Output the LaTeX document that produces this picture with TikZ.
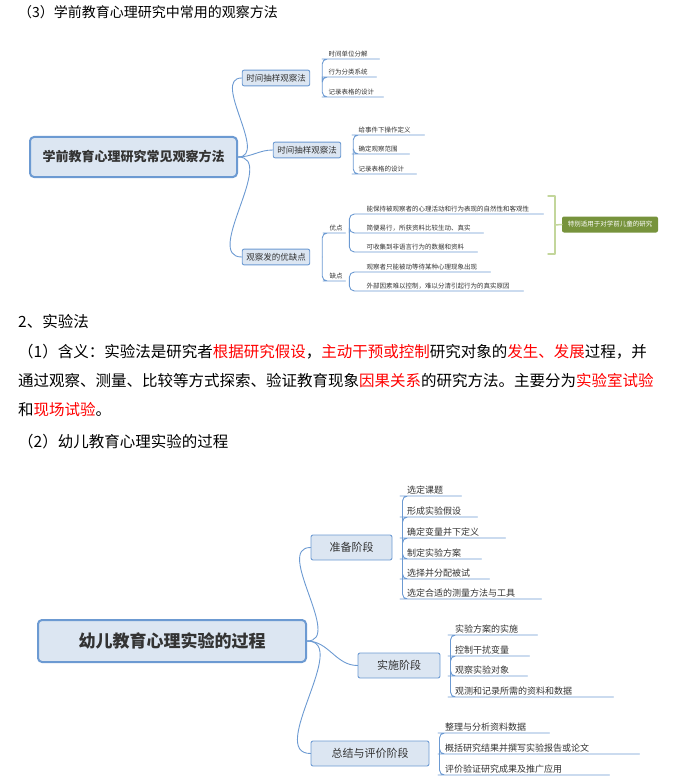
\documentclass[tikz,border=0pt]{standalone}
\usepackage{fontspec}
\setmainfont{Noto Sans CJK SC}
\usetikzlibrary{positioning}
\definecolor{mapblue}{HTML}{6C9AD2}
\definecolor{boxfill}{HTML}{DCE6F2}
\definecolor{txtgray}{HTML}{333333}
\definecolor{calloutgreen}{HTML}{77933C}
\definecolor{bracketgreen}{HTML}{C3D69B}
\tikzset{
  rootbox/.style={draw=mapblue,line width=2pt,fill=boxfill,rounded corners=4pt,text=txtgray,font=\bfseries},
  branchbox/.style={draw=mapblue,line width=0.9pt,fill=boxfill,rounded corners=2pt,text=txtgray,inner sep=4pt},
  leaf/.style={anchor=south west,inner sep=1.5pt,text=txtgray,align=left,text width=#1,font=\fontsize{6.5}{7.5}\selectfont},
  leaf/.default=20,
  bigleaf/.style={anchor=south west,inner sep=2pt,text=txtgray,align=left,text width=#1,font=\fontsize{9}{10}\selectfont},
  link/.style={draw=mapblue,line width=0.9pt},
  trunk/.style={draw=mapblue,line width=0.9pt,rounded corners=5pt},
  para/.style={anchor=west,inner sep=0pt,font=\fontsize{15.5}{17}\selectfont},
}
\newcommand{\hot}[1]{\textcolor{red}{#1}}
\begin{document}
\begin{tikzpicture}[x=1pt,y=-1pt,line cap=round,line join=round]
\useasboundingbox (0,0) rectangle (679,778);
% upper map
\node[para,font=\fontsize{14}{16}\selectfont] (title1) at (18,12) {（3）学前教育心理研究中常用的观察方法};
\node[rootbox,minimum width=207,minimum height=40,font=\bfseries\fontsize{13}{15}\selectfont] (root1) at (133.5,157) {学前教育心理研究常见观察方法};
\node[branchbox,font=\fontsize{8.5}{10}\selectfont] (tsa) at (276,78) {时间抽样观察法};
\node[branchbox,font=\fontsize{8.5}{10}\selectfont] (tsb) at (307,150) {时间抽样观察法};
\node[branchbox,font=\fontsize{8.5}{10}\selectfont] (pro) at (276,257) {观察发的优缺点};
\draw[link] (root1.east) to[out=0,in=180] (tsa.west);
\draw[link] (root1.east) to[out=0,in=180] (tsb.west);
\draw[link] (root1.east) to[out=0,in=180] (pro.west);
% leaves of the first branch
\node[leaf=49] (a1) at (327,59) {时间单位分解};
\node[leaf=46] (a2) at (327,77) {行为分类系统};
\node[leaf=53] (a3) at (327,97) {记录表格的设计};
\foreach \l in {a1,a2,a3}{
  \draw[trunk] ([xshift=12]tsa.east) |- (\l.south west) -- (\l.south east);
}
% leaves of the second branch
\node[leaf=64] (b1) at (357,135) {给事件下操作定义};
\node[leaf=49] (b2) at (357,154) {确定观察范围};
\node[leaf=56] (b3) at (357,174) {记录表格的设计};
\foreach \l in {b1,b2,b3}{
  \draw[trunk] ([xshift=12]tsb.east) |- (\l.south west) -- (\l.south east);
}
% pros and cons
\node[leaf=14] (good) at (328,233) {优点};
\node[leaf=14] (bad) at (328,281) {缺点};
\draw[trunk] ([xshift=12]pro.east) |- (good.south west) -- (good.south east);
\draw[trunk] ([xshift=12]pro.east) |- (bad.south west) -- (bad.south east);
\node[leaf=175] (g1) at (365,214) {能保持被观察者的心理活动和行为表现的自然性和客观性};
\node[leaf=115] (g2) at (365,233) {简便易行，所获资料比较生动、真实};
\node[leaf=109] (g3) at (365,252) {可收集到非语言行为的数据和资料};
\foreach \l in {g1,g2,g3}{
  \draw[trunk] ([xshift=4]good.south east) |- (\l.south west) -- (\l.south east);
}
\node[leaf=122] (h1) at (365,272) {观察者只能被动等待某种心理现象出现};
\node[leaf=155] (h2) at (365,291) {外部因素难以控制，难以分清引起行为的真实原因};
\foreach \l in {h1,h2}{
  \draw[trunk] ([xshift=4]bad.south east) |- (\l.south west) -- (\l.south east);
}
\draw[bracketgreen,line width=1.5pt] (548,196) -- (555,196) -- (555,254) -- (548,254);
\node[fill=calloutgreen,rounded corners=2pt,text=white,minimum width=96,minimum height=16,inner sep=1pt,font=\itshape\fontsize{6.5}{7}\selectfont] (note) at (610,224.5) {特别适用于对学前儿童的研究};
\draw[bracketgreen,line width=1.5pt] (555,225) -- (note.west);
% text between the maps
\node[para] (sec2) at (18,322) {2、实验法};
\node[para] (line1) at (18,352) {（1）含义：实验法是研究者\hot{根据研究假设}，\hot{主动干预或控制}研究对象的\hot{发生、发展}过程，并};
\node[para] (line2) at (18,381) {通过观察、测量、比较等方式探索、验证教育现象\hot{因果关系}的研究方法。主要分为\hot{实验室试验}};
\node[para] (line3) at (18,410) {和\hot{现场试验}。};
\node[para] (title2) at (18,442) {（2）幼儿教育心理实验的过程};
% lower map
\node[rootbox,minimum width=268,minimum height=42,font=\bfseries\fontsize{17}{19}\selectfont] (root2) at (172,641) {幼儿教育心理实验的过程};
\node[branchbox,minimum width=81,minimum height=25,font=\fontsize{11}{13}\selectfont] (prep) at (351.5,547.5) {准备阶段};
\node[branchbox,minimum width=82,minimum height=25,font=\fontsize{11}{13}\selectfont] (run) at (399,665.5) {实施阶段};
\node[branchbox,minimum width=118,minimum height=25,font=\fontsize{11}{13}\selectfont] (sum) at (370,753.5) {总结与评价阶段};
\draw[link] (root2.east) to[out=0,in=180] (prep.west);
\draw[link] (root2.east) to[out=0,in=180] (run.west);
\draw[link] (root2.east) to[out=0,in=180] (sum.west);
\node[bigleaf=52] (p1) at (405,496) {选定课题};
\node[bigleaf=68] (p2) at (405,517) {形成实验假设};
\node[bigleaf=96] (p3) at (405,538) {确定变量并下定义};
\node[bigleaf=72] (p4) at (405,559) {制定实验方案};
\node[bigleaf=80] (p5) at (405,579) {选择并分配被试};
\node[bigleaf=132] (p6) at (405,599) {选定合适的测量方法与工具};
\foreach \l in {p1,p2,p3,p4,p5,p6}{
  \draw[trunk] ([xshift=10]prep.east) |- (\l.south west) -- (\l.south east);
}
\node[bigleaf=80] (r1) at (453,635) {实验方案的实施};
\node[bigleaf=72] (r2) at (453,656) {控制干扰变量};
\node[bigleaf=70] (r3) at (453,676) {观察实验对象};
\node[bigleaf=156] (r4) at (453,697) {观测和记录所需的资料和数据};
\foreach \l in {r1,r2,r3,r4}{
  \draw[trunk] ([xshift=10]run.east) |- (\l.south west) -- (\l.south east);
}
\node[bigleaf=102] (s1) at (443,733) {整理与分析资料数据};
\node[bigleaf=192] (s2) at (443,754) {概括研究结果并撰写实验报告或论文};
\node[bigleaf=162] (s3) at (443,775) {评价验证研究成果及推广应用};
\foreach \l in {s1,s2,s3}{
  \draw[trunk] ([xshift=10]sum.east) |- (\l.south west) -- (\l.south east);
}
\end{tikzpicture}
\end{document}
